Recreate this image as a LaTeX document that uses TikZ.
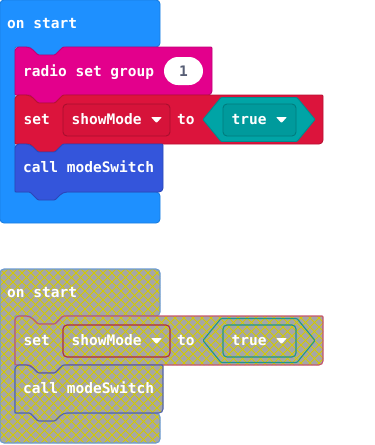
\documentclass[tikz,border=0pt]{standalone}
\usepackage{fontspec}
\newfontfamily\blockfont{DejaVu Sans Mono}

% block colours
\definecolor{hatblue}{HTML}{1E90FF}
\definecolor{hatline}{HTML}{1A7EE0}
\definecolor{radiopink}{HTML}{E3008C}
\definecolor{radioline}{HTML}{BF0076}
\definecolor{varred}{HTML}{DC143C}
\definecolor{varline}{HTML}{B81133}
\definecolor{fieldred}{HTML}{D6133A}
\definecolor{fieldredline}{HTML}{A80F2E}
\definecolor{logicteal}{HTML}{00A4A6}
\definecolor{logicline}{HTML}{008C8E}
\definecolor{fieldteal}{HTML}{009A9C}
\definecolor{fieldtealline}{HTML}{007C7E}
\definecolor{callblue}{HTML}{3455DB}
\definecolor{callline}{HTML}{2B47B8}
\definecolor{numgrey}{HTML}{575E75}
% disabled blocks
\definecolor{lowgray}{HTML}{A6A6A6}
\definecolor{hatchyellow}{HTML}{D2CA00}
\definecolor{offhat}{HTML}{6A9AD2}
\definecolor{offvar}{HTML}{C4566E}
\definecolor{offfield}{HTML}{B02A3E}
\definecolor{offteal}{HTML}{1E978C}
\definecolor{offcall}{HTML}{5263AE}

% statement block: left, top, right, bottom (notch on top, tab below)
\newcommand{\stmtshape}[4]{(#1,#2+10) [rounded corners=4] -- (#1,#2) -- (#1+15,#2)
  [rounded corners=1] -- (#1+23,#2+8) -- (#1+40,#2+8) -- (#1+48,#2) -- (#3,#2)
  [rounded corners=4] -- (#3,#4) -- (#1+48,#4)
  [rounded corners=1] -- (#1+40,#4+8) -- (#1+23,#4+8) -- (#1+15,#4) -- (#1,#4)
  [rounded corners=4] -- cycle}
% event block: top, header bottom, inner bottom, bottom
\newcommand{\hatshape}[4]{(0,#1+10) [rounded corners=4] -- (0,#1) -- (160,#1) -- (160,#2) -- (63,#2)
  [rounded corners=1] -- (55,#2+8) -- (38,#2+8) -- (30,#2) -- (15,#2)
  [sharp corners] -- (15,#3)
  [rounded corners=4] -- (160,#3) -- (160,#4) -- (0,#4) -- cycle}
% boolean hexagon: top, bottom
\newcommand{\hexshape}[2]{[rounded corners=1] (203,#1/2+#2/2) -- (221,#1) -- (297,#1) -- (315,#1/2+#2/2) -- (297,#2) -- (221,#2) -- cycle}
% dropdown arrow at left x, top y
\newcommand{\ddarrow}[2]{\fill[white, rounded corners=0.8] (#1,#2) -- (#1+11,#2) -- (#1+5.5,#2+6) -- cycle;}
% grey cross-hatched shape with coloured outline
\newcommand{\crossfill}[2]{%
  \fill[lowgray] #2;
  \begin{scope}
    \clip #2;
    \foreach \k in {-230,-221,...,560} {
      \draw[hatchline] (\k,255) -- ++(200,200);
      \draw[hatchline] (\k,255) -- ++(-200,200);
    }
  \end{scope}
  \draw[#1, line width=1.1] #2;}

\tikzset{
  lbl/.style={text=white, font=\blockfont\bfseries\fontsize{14.5}{16}\selectfont, inner sep=0, anchor=base west},
  hatchline/.style={hatchyellow, line width=0.9},
  edge/.style={line width=0.9}
}

\begin{document}
\begin{tikzpicture}[x=1pt, y=-1pt]
\useasboundingbox (0,0) rectangle (375,445);

% ---------- enabled program ----------
\filldraw[hatblue, draw=hatline, edge] \hatshape{0}{47}{192}{223};
\node[lbl] (onstartA) at (7,28.3) {on start};

\filldraw[radiopink, draw=radioline, edge] \stmtshape{15}{47}{212}{95};
\node[lbl] (radio) at (23,76.7) {radio set group};
\fill[white, rounded corners=14] (164,57) rectangle (203,85);
\node[lbl, text=numgrey, anchor=base] (groupnum) at (183.5,76.7) {1};

\filldraw[varred, draw=varline, edge] \stmtshape{15}{95}{323}{144};
\node[lbl] (setA) at (23.5,124.5) {set};
\filldraw[fieldred, draw=fieldredline, edge, rounded corners=4] (63,104) rectangle (170,136);
\node[lbl] (varA) at (71.5,124.5) {showMode};
\ddarrow{151}{117}
\node[lbl] (toA) at (177,124.5) {to};
\filldraw[logicteal, draw=logicline, edge] \hexshape{97.5}{141.5};
\filldraw[fieldteal, draw=fieldtealline, edge, rounded corners=4] (223,104) rectangle (296,136);
\node[lbl] (trueA) at (231.5,124.5) {true};
\ddarrow{276}{117}

\filldraw[callblue, draw=callline, edge] \stmtshape{15}{144}{163}{192};
\node[lbl] (callA) at (23,172.7) {call modeSwitch};

% ---------- disabled copy ----------
\crossfill{offhat}{\hatshape{269}{316}{413}{443}}
\node[lbl] (onstartB) at (7,297.3) {on start};

\crossfill{offvar}{\stmtshape{15}{316}{323}{365}}
\node[lbl] (setB) at (23.5,345.5) {set};
\draw[offfield, line width=1.1, rounded corners=4] (63,325) rectangle (170,357);
\node[lbl] (varB) at (71.5,345.5) {showMode};
\ddarrow{151}{338}
\node[lbl] (toB) at (177,345.5) {to};
\draw[offteal, line width=1.1] \hexshape{318.5}{362.5};
\draw[offteal, line width=1.1, rounded corners=4] (223,325) rectangle (296,357);
\node[lbl] (trueB) at (231.5,345.5) {true};
\ddarrow{276}{338}

\crossfill{offcall}{\stmtshape{15}{365}{163}{413}}
\node[lbl] (callB) at (23,393.7) {call modeSwitch};
\end{tikzpicture}
\end{document}
